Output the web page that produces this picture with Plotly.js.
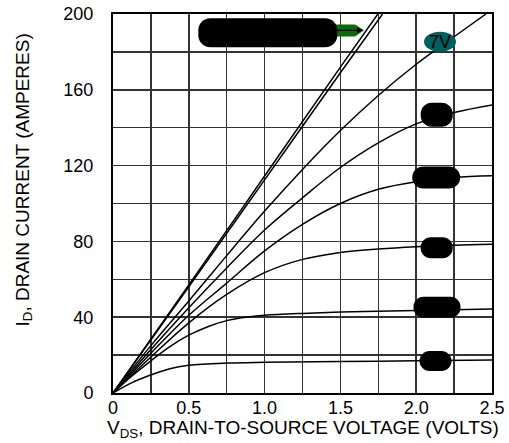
<!DOCTYPE html>
<html>
<head>
<meta charset="utf-8">
<script src="https://cdn.plot.ly/plotly-3.0.1.min.js"></script>
<style>html,body{margin:0;padding:0;background:#fff;}#chart{width:509px;height:443px;}</style>
</head>
<body>
<div id="chart"></div>
<script>
// ---- data ----
const vdsTopA = [0, 0.5, 1.0, 1.5, 1.747];
const idTopA  = [0, 57, 114.5, 172, 200];
const vdsTopB = [0, 0.5, 1.0, 1.5, 1.778];
const idTopB  = [0, 56, 112.5, 169, 200];
const vds7V   = [0, 0.25, 0.5, 0.75, 1.0, 1.25, 1.5, 1.75, 2.0, 2.25, 2.46];
const id7V    = [0, 25, 48.5, 72.5, 96, 118, 138.5, 157, 173.5, 188, 200];
const vdsC4   = [0, 0.25, 0.5, 0.75, 1.0, 1.25, 1.5, 1.75, 2.0, 2.25, 2.5];
const idC4    = [0, 23, 45, 66, 86, 103, 119, 132, 142, 148, 152];
const vdsC5   = [0, 0.25, 0.5, 0.75, 1.0, 1.25, 1.5, 1.75, 2.0, 2.25, 2.5];
const idC5    = [0, 21, 41, 58, 75, 89, 100, 107.5, 111.5, 113.8, 114.7];
const vdsC6   = [0, 0.25, 0.5, 0.75, 1.0, 1.25, 1.5, 1.75, 2.0, 2.25, 2.5];
const idC6    = [0, 19, 37, 52, 63.5, 70.5, 74.2, 76, 77.2, 78, 78.5];
const vdsC7   = [0, 0.125, 0.25, 0.375, 0.5, 0.625, 0.75, 0.875, 1.0, 1.25, 1.5, 2.0, 2.5];
const idC7    = [0, 9, 17, 24.5, 30.5, 35, 38.2, 40, 41, 42, 42.7, 43.5, 44.3];
const vdsC8   = [0, 0.125, 0.25, 0.375, 0.5, 0.75, 1.0, 1.5, 2.0, 2.5];
const idC8    = [0, 5.5, 9.5, 12.8, 14.6, 15.8, 16.2, 16.6, 17.0, 17.4];

const xTickVals = [0, 0.25, 0.5, 0.75, 1.0, 1.25, 1.5, 1.75, 2.0, 2.25, 2.5];
const xTickText = ['0', '', '0.5', '', '1.0', '', '1.5', '', '2.0', '', '2.5'];
const yTickVals = [0, 20, 40, 60, 80, 100, 120, 140, 160, 180, 200];
const yTickText = ['0', '', '40', '', '80', '', '120', '', '160', '', '200'];

const curveLabel = '7V';

// ---- drawing ----
const curves = [
  [vdsTopA, idTopA], [vdsTopB, idTopB], [vds7V, id7V], [vdsC4, idC4],
  [vdsC5, idC5], [vdsC6, idC6], [vdsC7, idC7], [vdsC8, idC8]
];
const traces = curves.map(c => ({
  x: c[0], y: c[1], type: 'scatter', mode: 'lines',
  line: {color: '#000', width: 1.5, shape: 'spline', smoothing: 1},
  hoverinfo: 'skip', showlegend: false
}));

const L = 113, T = 14, W = 379, H = 379;
const pxV = W / 2.5, pxI = H / 200;
function v(px) { return (px - L) / pxV; }
function i(py) { return (T + H - py) / pxI; }
function pill(cxPx, cyPx, wPx, hPx, rPx) {
  const x0 = v(cxPx - wPx / 2), x1 = v(cxPx + wPx / 2);
  const y0 = i(cyPx + hPx / 2), y1 = i(cyPx - hPx / 2);
  const rx = rPx / pxV, ry = rPx / pxI, k = 0.5523;
  const p = [
    `M${x0 + rx},${y0}`, `L${x1 - rx},${y0}`,
    `C${x1 - rx + k * rx},${y0} ${x1},${y0 + ry - k * ry} ${x1},${y0 + ry}`,
    `L${x1},${y1 - ry}`,
    `C${x1},${y1 - ry + k * ry} ${x1 - rx + k * rx},${y1} ${x1 - rx},${y1}`,
    `L${x0 + rx},${y1}`,
    `C${x0 + rx - k * rx},${y1} ${x0},${y1 - ry + k * ry} ${x0},${y1 - ry}`,
    `L${x0},${y0 + ry}`,
    `C${x0},${y0 + ry - k * ry} ${x0 + rx - k * rx},${y0} ${x0 + rx},${y0}`, 'Z'
  ].join(' ');
  return {type: 'path', xref: 'x', yref: 'y', path: p, fillcolor: '#000', line: {width: 0}, layer: 'above'};
}

const shapes = [
  {type: 'path', xref: 'x', yref: 'y', fillcolor: '#0a6b0a', line: {width: 0}, layer: 'above',
   path: `M${v(333)},${i(24.5)} L${v(355)},${i(24.5)} L${v(364)},${i(30.3)} L${v(355)},${i(36.5)} L${v(333)},${i(36.5)} Z`},
  pill(267.8, 32.8, 139, 29, 12),
  pill(436.7, 114.7, 32, 24, 11),
  pill(436.2, 177.5, 48, 22, 11),
  pill(436.7, 247.8, 32, 21, 10),
  pill(437.0, 307.2, 47, 21, 10),
  pill(435.5, 360.9, 32, 20, 10),
  {type: 'circle', xref: 'x', yref: 'y', x0: v(424), x1: v(456), y0: i(51.7), y1: i(31.7),
   fillcolor: '#005f5f', line: {width: 0}, layer: 'above'}
];

const fam = 'Liberation Sans, Arial, Helvetica, sans-serif';
const tickFont = {family: fam, size: 18, color: '#000'};
const titleFont = {family: fam, size: 19, color: '#000'};

const layout = {
  width: 509, height: 443,
  margin: {l: L, r: 509 - L - W, t: T, b: 443 - T - H, pad: 0},
  paper_bgcolor: '#fff', plot_bgcolor: '#fff',
  font: tickFont,
  showlegend: false,
  xaxis: {
    range: [0, 2.5], tickmode: 'array', tickvals: xTickVals, ticktext: xTickText,
    showgrid: true, gridcolor: '#333', gridwidth: 1.5, zeroline: false,
    showline: true, linecolor: '#000', linewidth: 2, mirror: true,
    ticks: '', ticklabelstandoff: -3, tickfont: tickFont, fixedrange: true
  },
  yaxis: {
    range: [0, 200], tickmode: 'array', tickvals: yTickVals, ticktext: yTickText,
    showgrid: true, gridcolor: '#333', gridwidth: 1.5, zeroline: false,
    showline: true, linecolor: '#000', linewidth: 2, mirror: true,
    ticks: '', ticklabelstandoff: 14, tickfont: tickFont, fixedrange: true
  },
  shapes: shapes,
  annotations: [
    {xref: 'x', yref: 'y', x: v(440), y: i(41.7), text: curveLabel, showarrow: false,
     font: {family: fam, size: 18, color: '#000'}, xanchor: 'center', yanchor: 'middle'},
    {xref: 'x', yref: 'y', x: v(363), y: i(30.3), ax: -29, ay: 0, axref: 'pixel', ayref: 'pixel',
     text: '', showarrow: true, arrowhead: 2, arrowsize: 1, arrowwidth: 1.2, arrowcolor: '#000'},
    {xref: 'paper', yref: 'paper', x: 0.5, y: -(429 - 393) / H, text: 'V<sub>DS</sub>, DRAIN-TO-SOURCE VOLTAGE (VOLTS)',
     showarrow: false, xanchor: 'center', yanchor: 'middle', font: titleFont},
    {xref: 'paper', yref: 'paper', x: (23 - L) / W, y: (393 - 180.5) / H, text: 'I<sub>D</sub>, DRAIN CURRENT (AMPERES)',
     showarrow: false, textangle: -90, xanchor: 'center', yanchor: 'middle', font: titleFont}
  ]
};

Plotly.newPlot('chart', traces, layout, {displayModeBar: false, staticPlot: true});
</script>
</body>
</html>
